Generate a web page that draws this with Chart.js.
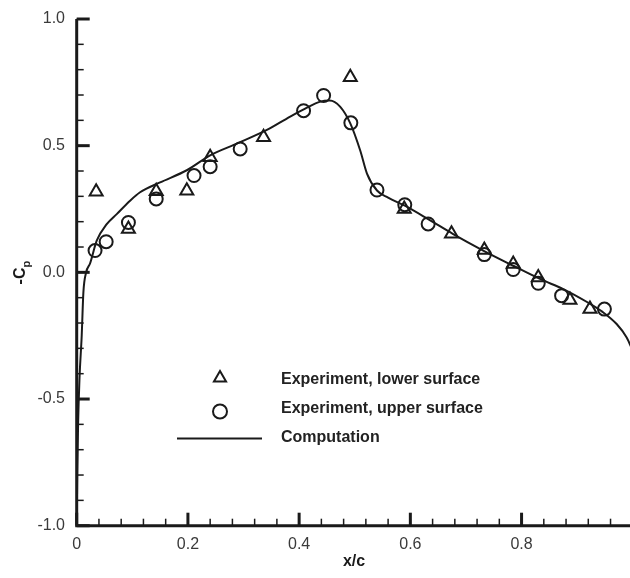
<!DOCTYPE html>
<html>
<head>
<meta charset="utf-8">
<script src="https://cdn.jsdelivr.net/npm/chart.js@4"></script>
<style>
  body { margin: 0; background: #fff; }
  canvas { display: block; }
</style>
</head>
<body>
<canvas id="cpchart" width="630" height="578"></canvas>
<script>
// measured pressure, lower surface
const lowerX = [0.035, 0.093, 0.143, 0.198, 0.240, 0.336, 0.492, 0.589, 0.674, 0.733, 0.785, 0.830, 0.887, 0.923];
const lowerCp = [0.318, 0.171, 0.320, 0.322, 0.454, 0.533, 0.770, 0.250, 0.152, 0.088, 0.033, -0.020, -0.109, -0.145];

// measured pressure, upper surface
const upperX = [0.033, 0.053, 0.093, 0.143, 0.211, 0.240, 0.294, 0.408, 0.444, 0.493, 0.540, 0.590, 0.632, 0.733, 0.785, 0.830, 0.872, 0.949];
const upperCp = [0.086, 0.121, 0.197, 0.290, 0.382, 0.417, 0.487, 0.638, 0.698, 0.590, 0.325, 0.267, 0.191, 0.070, 0.011, -0.043, -0.092, -0.145];

// computed distribution
const compX = [0.0, 0.001, 0.0025, 0.005, 0.009, 0.012, 0.017, 0.024, 0.036, 0.054, 0.072, 0.096, 0.114, 0.15, 0.198, 0.24, 0.29, 0.342, 0.384, 0.41, 0.438, 0.455, 0.474, 0.492, 0.51, 0.522, 0.54, 0.56, 0.59, 0.632, 0.677, 0.731, 0.785, 0.835, 0.875, 0.92, 0.945, 0.971, 0.989, 1.0];
const compCp = [-1.0, -0.8, -0.6, -0.42, -0.25, -0.08, 0.0, 0.035, 0.125, 0.19, 0.23, 0.283, 0.316, 0.355, 0.403, 0.462, 0.51, 0.562, 0.615, 0.645, 0.674, 0.678, 0.653, 0.588, 0.48, 0.39, 0.323, 0.295, 0.263, 0.21, 0.151, 0.086, 0.026, -0.028, -0.066, -0.12, -0.155, -0.204, -0.257, -0.31];

const xMajor = [0, 0.2, 0.4, 0.6, 0.8];
const yMajor = [-1.0, -0.5, 0.0, 0.5, 1.0];

const legendItems = ["Experiment, lower surface", "Experiment, upper surface", "Computation"];

const toPoints = (xs, ys) => xs.map((x, i) => ({ x, y: ys[i] }));

const ink = "#1a1a1a";

// axes, inward ticks, labels and the legend box
const frame = {
  id: "frame",
  afterDatasetsDraw(chart) {
    const ctx = chart.ctx;
    const xs = chart.scales.x;
    const ys = chart.scales.y;
    const area = chart.chartArea;
    ctx.save();
    ctx.strokeStyle = ink;
    ctx.lineCap = "butt";

    // minor ticks
    ctx.lineWidth = 1.5;
    for (let v = 0.04; v < 0.995; v += 0.04) {
      const px = xs.getPixelForValue(v);
      ctx.beginPath();
      ctx.moveTo(px, area.bottom);
      ctx.lineTo(px, area.bottom - 7);
      ctx.stroke();
    }
    for (let v = -0.9; v < 1.0; v += 0.1) {
      const py = ys.getPixelForValue(v);
      ctx.beginPath();
      ctx.moveTo(area.left, py);
      ctx.lineTo(area.left + 7, py);
      ctx.stroke();
    }

    // major ticks
    ctx.lineWidth = 3;
    xMajor.forEach((v) => {
      const px = xs.getPixelForValue(v);
      ctx.beginPath();
      ctx.moveTo(px, area.bottom);
      ctx.lineTo(px, area.bottom - 13);
      ctx.stroke();
    });
    yMajor.forEach((v) => {
      const py = ys.getPixelForValue(v);
      ctx.beginPath();
      ctx.moveTo(area.left, py);
      ctx.lineTo(area.left + 13, py);
      ctx.stroke();
    });

    // axis lines
    ctx.lineWidth = 3;
    ctx.beginPath();
    ctx.moveTo(area.left, area.top);
    ctx.lineTo(area.left, area.bottom);
    ctx.lineTo(area.right, area.bottom);
    ctx.stroke();

    // tick labels
    ctx.fillStyle = "#3a3a3a";
    ctx.font = "16px 'Liberation Sans', Arial, sans-serif";
    ctx.textAlign = "center";
    ctx.textBaseline = "middle";
    xMajor.forEach((v) => {
      ctx.fillText(v === 0 ? "0" : v.toFixed(1), xs.getPixelForValue(v), 545);
    });
    ctx.textAlign = "right";
    yMajor.forEach((v) => {
      ctx.fillText(v.toFixed(1), 65, ys.getPixelForValue(v));
    });

    // axis titles
    ctx.fillStyle = ink;
    ctx.font = "bold 16px 'Liberation Sans', Arial, sans-serif";
    ctx.textAlign = "center";
    ctx.textBaseline = "alphabetic";
    ctx.fillText("x/c", 354, 566);

    ctx.save();
    ctx.translate(25, 272);
    ctx.rotate(-Math.PI / 2);
    ctx.textAlign = "left";
    const w1 = ctx.measureText("-C").width;
    const w2 = 8;
    ctx.fillText("-C", -(w1 + w2) / 2, 0);
    ctx.font = "bold 11px 'Liberation Sans', Arial, sans-serif";
    ctx.fillText("p", -(w1 + w2) / 2 + w1, 5);
    ctx.restore();

    // legend
    ctx.lineWidth = 2;
    const r = 7;
    const lx = 220;
    ctx.beginPath();
    ctx.moveTo(lx, 378 - r);
    ctx.lineTo(lx + r * 0.866, 378 + r * 0.5);
    ctx.lineTo(lx - r * 0.866, 378 + r * 0.5);
    ctx.closePath();
    ctx.stroke();
    ctx.beginPath();
    ctx.arc(lx, 411.5, 7, 0, Math.PI * 2);
    ctx.stroke();
    ctx.beginPath();
    ctx.moveTo(177, 438.5);
    ctx.lineTo(262, 438.5);
    ctx.stroke();

    ctx.font = "bold 16px 'Liberation Sans', Arial, sans-serif";
    ctx.textAlign = "left";
    ctx.textBaseline = "middle";
    ctx.fillStyle = "#222";
    legendItems.forEach((t, i) => {
      ctx.fillText(t, 281, 380 + i * 29);
    });
    ctx.restore();
  },
};

new Chart(document.getElementById("cpchart"), {
  type: "scatter",
  data: {
    datasets: [
      {
        label: legendItems[2],
        type: "line",
        data: toPoints(compX, compCp),
        borderColor: ink,
        borderWidth: 2,
        pointRadius: 0,
        cubicInterpolationMode: "monotone",
        fill: false,
        order: 0,
      },
      {
        label: legendItems[0],
        data: toPoints(lowerX, lowerCp),
        pointStyle: "triangle",
        pointRadius: 7.5,
        borderColor: ink,
        borderWidth: 2,
        backgroundColor: "rgba(0,0,0,0)",
        order: 1,
      },
      {
        label: legendItems[1],
        data: toPoints(upperX, upperCp),
        pointStyle: "circle",
        pointRadius: 6.5,
        borderColor: ink,
        borderWidth: 2,
        backgroundColor: "rgba(0,0,0,0)",
        order: 2,
      },
    ],
  },
  options: {
    responsive: false,
    animation: false,
    layout: { autoPadding: false, padding: { left: 76.7, top: 19, right: 0, bottom: 52.3 } },
    plugins: {
      legend: { display: false },
      tooltip: { enabled: false },
    },
    scales: {
      x: { type: "linear", min: 0, max: 0.995, display: false },
      y: { type: "linear", min: -1, max: 1, display: false },
    },
  },
  plugins: [frame],
});
</script>
</body>
</html>
